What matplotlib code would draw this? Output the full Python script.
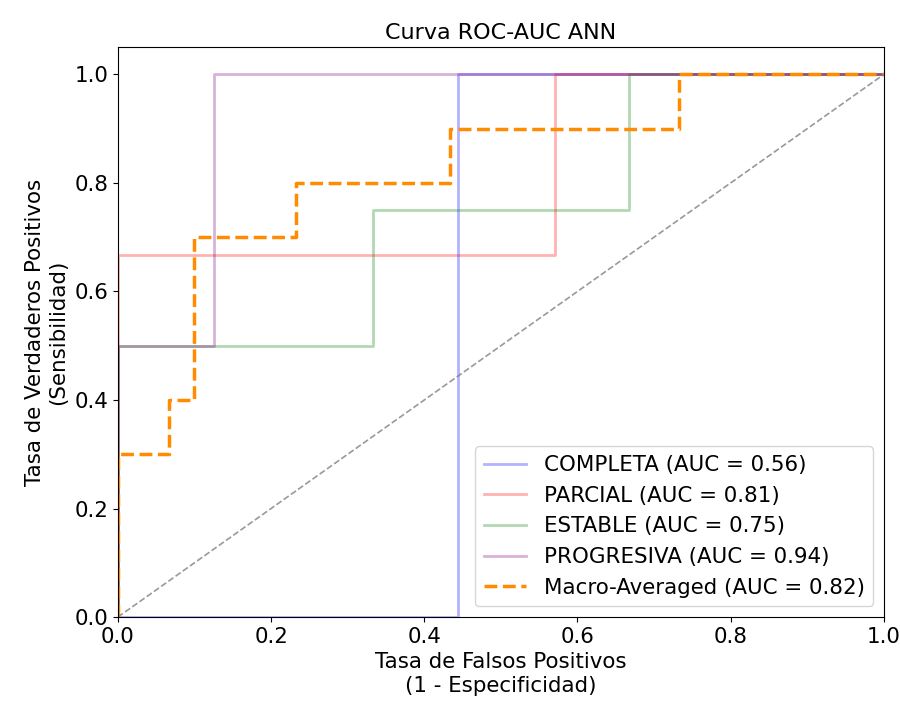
import numpy as np
import matplotlib.pyplot as plt

# step curves (fpr, tpr)
completa_fpr = [0.0, 0.444, 0.444, 1.0]
completa_tpr = [0.0, 0.0, 1.0, 1.0]

parcial_fpr = [0.0, 0.0, 0.571, 0.571, 1.0]
parcial_tpr = [0.0, 0.667, 0.667, 1.0, 1.0]

estable_fpr = [0.0, 0.0, 0.333, 0.333, 0.667, 0.667, 1.0]
estable_tpr = [0.0, 0.5, 0.5, 0.75, 0.75, 1.0, 1.0]

progresiva_fpr = [0.0, 0.0, 0.125, 0.125, 1.0]
progresiva_tpr = [0.0, 0.5, 0.5, 1.0, 1.0]

macro_fpr = [0.0, 0.0, 0.0667, 0.0667, 0.1, 0.1, 0.233, 0.233, 0.433, 0.433, 0.733, 0.733, 1.0]
macro_tpr = [0.0, 0.3, 0.3, 0.4, 0.4, 0.7, 0.7, 0.8, 0.8, 0.9, 0.9, 1.0, 1.0]

labels = ["COMPLETA", "PARCIAL", "ESTABLE", "PROGRESIVA"]
aucs = [0.56, 0.81, 0.75, 0.94]
macro_auc = 0.82
colors = ["blue", "red", "green", "purple"]

plt.rcParams['font.size'] = 15.4

fig = plt.figure(figsize=(9, 7.06), dpi=100)
ax = fig.add_axes([0.131, 0.126, 0.851, 0.807])

curves = [(completa_fpr, completa_tpr), (parcial_fpr, parcial_tpr),
          (estable_fpr, estable_tpr), (progresiva_fpr, progresiva_tpr)]
for (fpr, tpr), lab, auc, col in zip(curves, labels, aucs, colors):
    ax.plot(fpr, tpr, color=col, alpha=0.3, lw=2, label=f"{lab} (AUC = {auc:.2f})")

ax.plot(macro_fpr, macro_tpr, color='darkorange', lw=2.5, linestyle='--',
        label=f"Macro-Averaged (AUC = {macro_auc:.2f})")
ax.plot([0, 1], [0, 1], color='gray', alpha=0.8, lw=1.2, linestyle='--')

ax.set_xlim(0.0, 1.0)
ax.set_ylim(0.0, 1.05)
ax.set_xlabel("Tasa de Falsos Positivos\n(1 - Especificidad)")
ax.set_ylabel("Tasa de Verdaderos Positivos\n(Sensibilidad)")
ax.set_title("Curva ROC-AUC ANN", fontsize=16)
ax.legend(loc='lower right')

fig.savefig("out.png", dpi=100)
